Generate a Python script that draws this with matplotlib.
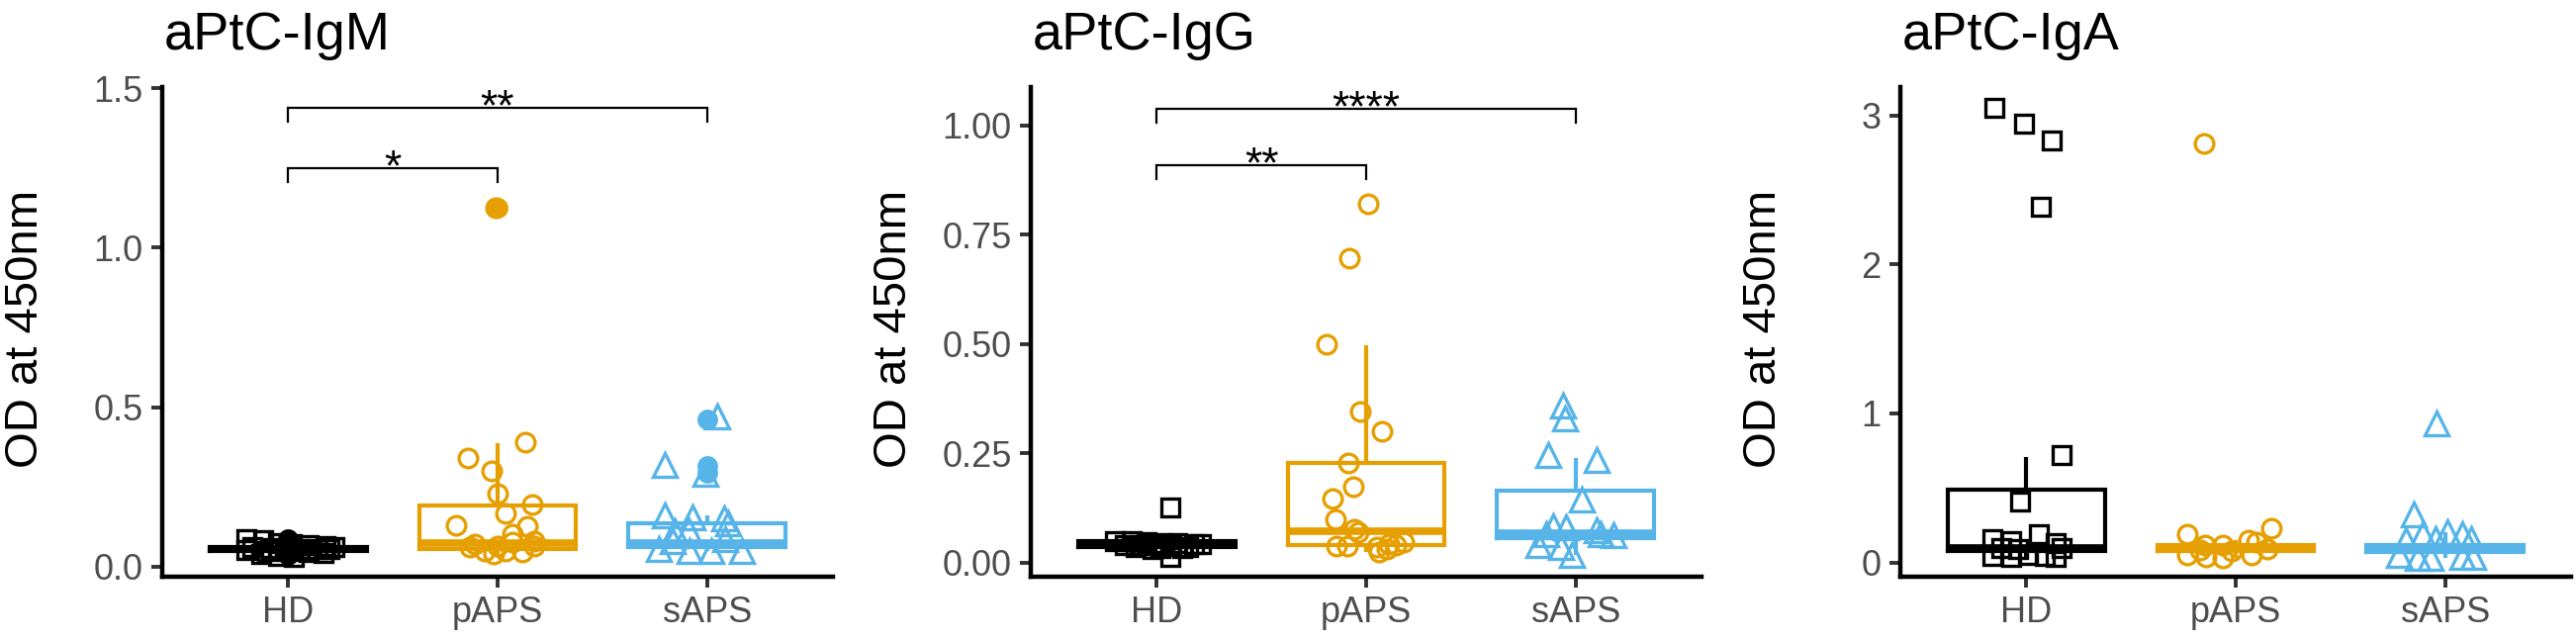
"""
aPtC antibody OD panels (IgM / IgG / IgA) - boxplot + jitter recreation
"""
import numpy as np
import matplotlib
matplotlib.use('Agg')
import matplotlib.pyplot as plt

plt.rcParams['font.family'] = ['Liberation Sans', 'DejaVu Sans']

# ============================================================
# Data
# ============================================================
GROUPS = ['HD', 'pAPS', 'sAPS']
COLORS = ['#000000', '#E69F00', '#56B4E9']
MARKERS = ['s', 'o', '^']
TITLES = ['aPtC-IgM', 'aPtC-IgG', 'aPtC-IgA']

# --- aPtC-IgM ---
igm_hd = [0.086, 0.083, 0.075, 0.07, 0.066, 0.064, 0.062, 0.06, 0.058, 0.056,
          0.055, 0.054, 0.052, 0.05, 0.048, 0.045, 0.042, 0.038, 0.033, 0.03]
igm_hd_dx = [-0.2, -0.12, -0.05, 0.02, 0.1, 0.18, 0.22, -0.17, -0.08, 0.05,
             0.14, 0.2, -0.2, -0.1, 0.0, 0.1, 0.17, -0.13, -0.05, 0.03]
igm_paps = [1.125, 0.39, 0.34, 0.30, 0.23, 0.195, 0.167, 0.13, 0.127, 0.102,
            0.08, 0.077, 0.07, 0.065, 0.064, 0.06, 0.05, 0.05, 0.045, 0.04]
igm_paps_dx = [-0.01, 0.13, -0.14, -0.03, 0.0, 0.165, 0.04, -0.2, 0.14, 0.07,
               0.175, 0.07, -0.11, 0.175, 0.0, -0.13, -0.06, 0.04, 0.12, -0.02]
igm_saps = [0.47, 0.32, 0.29, 0.16, 0.155, 0.15, 0.135, 0.115, 0.11, 0.085,
            0.08, 0.055, 0.05, 0.05, 0.05]
igm_saps_dx = [0.05, -0.2, -0.01, -0.2, -0.07, 0.08, 0.1, -0.09, -0.155, 0.085,
               -0.165, -0.23, -0.085, 0.02, 0.165]
igm_q1 = [0.05, 0.056, 0.062]
igm_med = [0.055, 0.075, 0.072]
igm_q3 = [0.06, 0.192, 0.137]
igm_lo = [0.045, 0.04, 0.05]
igm_hi = [0.066, 0.387, 0.16]
igm_outliers = [[0.086, 0.08, 0.04, 0.035], [1.125], [0.46, 0.315, 0.295]]
igm_brackets = [(1, 2, 1.249, '*'), (1, 3, 1.438, '**')]

# --- aPtC-IgG ---
igg_hd = [0.125, 0.05, 0.048, 0.046, 0.045, 0.044, 0.043, 0.042, 0.041, 0.04,
          0.04, 0.038, 0.036, 0.035, 0.034, 0.033, 0.03, 0.013]
igg_hd_dx = [0.065, -0.2, -0.12, -0.05, 0.03, 0.1, 0.18, 0.21, -0.15, -0.08,
             0.0, 0.07, 0.15, -0.1, 0.02, 0.12, -0.02, 0.065]
igg_paps = [0.82, 0.697, 0.50, 0.346, 0.30, 0.228, 0.174, 0.146, 0.099, 0.076,
            0.07, 0.047, 0.042, 0.04, 0.038, 0.038, 0.035, 0.03, 0.024]
igg_paps_dx = [0.01, -0.08, -0.19, -0.03, 0.075, -0.085, -0.06, -0.16, -0.145, -0.055,
               -0.04, 0.18, 0.11, 0.14, -0.14, -0.09, 0.05, 0.1, 0.06]
igg_saps = [0.36, 0.33, 0.245, 0.235, 0.145, 0.083, 0.08, 0.075, 0.066, 0.065,
            0.062, 0.04, 0.035, 0.018]
igg_saps_dx = [-0.06, -0.05, -0.13, 0.1, 0.03, -0.11, -0.045, 0.1, 0.12, -0.14,
               0.18, -0.18, -0.07, -0.02]
igg_q1 = [0.035, 0.04, 0.055]
igg_med = [0.042, 0.072, 0.068]
igg_q3 = [0.048, 0.228, 0.165]
igg_lo = [0.03, 0.024, 0.018]
igg_hi = [0.05, 0.496, 0.24]
igg_outliers = [[], [], []]
igg_brackets = [(1, 2, 0.909, '**'), (1, 3, 1.038, '****')]

# --- aPtC-IgA ---
iga_hd = [3.05, 2.944, 2.83, 2.39, 0.72, 0.41, 0.19, 0.157, 0.145, 0.13,
          0.1, 0.1, 0.09, 0.05, 0.045, 0.045, 0.04, 0.04]
iga_hd_dx = [-0.15, -0.01, 0.12, 0.07, 0.17, -0.03, 0.06, -0.16, -0.07, 0.14,
             0.17, -0.12, -0.04, 0.01, -0.16, 0.09, -0.07, 0.14]
iga_paps = [2.81, 0.23, 0.19, 0.15, 0.14, 0.12, 0.12, 0.09, 0.085, 0.08,
            0.05, 0.05, 0.04, 0.03]
iga_paps_dx = [-0.15, 0.17, -0.23, 0.06, 0.1, -0.147, -0.06, 0.15, -0.17, -0.02,
               -0.23, 0.075, -0.14, -0.06]
iga_saps = [0.935, 0.32, 0.2, 0.19, 0.19, 0.16, 0.16, 0.15, 0.05, 0.04,
            0.04, 0.03, 0.03]
iga_saps_dx = [-0.04, -0.15, 0.01, -0.11, 0.08, -0.045, 0.125, -0.19, -0.22, 0.08,
               0.135, -0.13, -0.07]
iga_q1 = [0.075, 0.08, 0.07]
iga_med = [0.1, 0.095, 0.09]
iga_q3 = [0.49, 0.115, 0.12]
iga_lo = [0.04, 0.03, 0.03]
iga_hi = [0.71, 0.15, 0.2]
iga_outliers = [[], [], []]
iga_brackets = []

# axis setup per panel
Y_LIMS = [(-0.032, 1.504), (-0.0324, 1.0875), (-0.0955, 3.19)]
Y_TICKS = [[0, 0.5, 1.0, 1.5], [0, 0.25, 0.5, 0.75, 1.0], [0, 1, 2, 3]]
Y_TICKLABELS = [['0.0', '0.5', '1.0', '1.5'],
                ['0.00', '0.25', '0.50', '0.75', '1.00'],
                ['0', '1', '2', '3']]

panels = [
    dict(points=[(igm_hd, igm_hd_dx), (igm_paps, igm_paps_dx), (igm_saps, igm_saps_dx)],
         q1=igm_q1, med=igm_med, q3=igm_q3, lo=igm_lo, hi=igm_hi,
         outliers=igm_outliers, brackets=igm_brackets),
    dict(points=[(igg_hd, igg_hd_dx), (igg_paps, igg_paps_dx), (igg_saps, igg_saps_dx)],
         q1=igg_q1, med=igg_med, q3=igg_q3, lo=igg_lo, hi=igg_hi,
         outliers=igg_outliers, brackets=igg_brackets),
    dict(points=[(iga_hd, iga_hd_dx), (iga_paps, iga_paps_dx), (iga_saps, iga_saps_dx)],
         q1=iga_q1, med=iga_med, q3=iga_q3, lo=iga_lo, hi=iga_hi,
         outliers=iga_outliers, brackets=iga_brackets),
]

# ============================================================
# Figure
# ============================================================
W, H = 2604, 648
fig = plt.figure(figsize=(W / 100, H / 100), dpi=100)

PANEL_LEFT_PX = [164, 1042, 1921]
PANEL_W_PX = 678
PANEL_TOP_PX, PANEL_BOT_PX = 88, 583

MARKER_SIZE = {'s': 12.5, 'o': 13.5, '^': 17}
TICK_COLOR = '#4D4D4D'

for i, p in enumerate(panels):
    left = PANEL_LEFT_PX[i]
    ax = fig.add_axes([left / W, 1 - PANEL_BOT_PX / H, PANEL_W_PX / W,
                       (PANEL_BOT_PX - PANEL_TOP_PX) / H])
    ax.set_xlim(0.4, 3.6)
    ax.set_ylim(*Y_LIMS[i])

    # boxplots
    stats = []
    for g in range(3):
        stats.append(dict(q1=p['q1'][g], med=p['med'][g], q3=p['q3'][g],
                          whislo=p['lo'][g], whishi=p['hi'][g], fliers=[]))
    bp = ax.bxp(stats, positions=[1, 2, 3], widths=0.75, showcaps=False,
                showfliers=False, manage_ticks=False)
    for g in range(3):
        bp['boxes'][g].set(color=COLORS[g], linewidth=3.0, solid_joinstyle='miter')
        bp['medians'][g].set(color=COLORS[g], linewidth=5.5, solid_capstyle='butt')
        for w in bp['whiskers'][2 * g:2 * g + 2]:
            w.set(color=COLORS[g], linewidth=3.0, solid_capstyle='butt')

    # outliers (filled) at group centre
    for g in range(3):
        if p['outliers'][g]:
            ax.plot([g + 1] * len(p['outliers'][g]), p['outliers'][g],
                    linestyle='none', marker='o', ms=15, mfc=COLORS[g],
                    mec=COLORS[g], mew=0, zorder=3)

    # jittered points
    for g in range(3):
        vals, dx = p['points'][g]
        xs = np.array(dx) + g + 1
        ax.plot(xs, vals, linestyle='none', marker=MARKERS[g],
                ms=MARKER_SIZE[MARKERS[g]], mfc='none', mec=COLORS[g],
                mew=2.4, zorder=4)

    # significance brackets
    y0, y1 = Y_LIMS[i]
    px_per_unit = (PANEL_BOT_PX - PANEL_TOP_PX) / (y1 - y0)
    tip = 14 / px_per_unit
    for (a, b, yb, lab) in p['brackets']:
        ax.plot([a, a, b, b], [yb - tip, yb, yb, yb - tip], color='black',
                linewidth=1.6, solid_joinstyle='miter', zorder=5)
        ax.annotate(lab, xy=((a + b) / 2, yb), xytext=(0, -9),
                    textcoords='offset points', ha='center', va='baseline',
                    fontsize=32, color='black')

    # axes styling (theme_classic look)
    for s in ['top', 'right']:
        ax.spines[s].set_visible(False)
    for s in ['left', 'bottom']:
        ax.spines[s].set_linewidth(3.2)
        ax.spines[s].set_color('black')
        ax.spines[s].set_capstyle('projecting')
    ax.set_xticks([1, 2, 3])
    ax.set_xticklabels(GROUPS)
    ax.set_yticks(Y_TICKS[i])
    ax.set_yticklabels(Y_TICKLABELS[i])
    ax.tick_params(axis='both', length=8, width=2.8, color='#333333',
                   labelsize=26, labelcolor=TICK_COLOR, pad=6)

    # y label and title
    fig.text((left - 138) / W, 1 - 332 / H, 'OD at 450nm', rotation=90,
             ha='center', va='center', fontsize=34, color='black')
    fig.text((left + 2) / W, 1 - 50 / H, TITLES[i], ha='left', va='baseline',
             fontsize=39, color='black')

fig.savefig('out.png', dpi=100)
